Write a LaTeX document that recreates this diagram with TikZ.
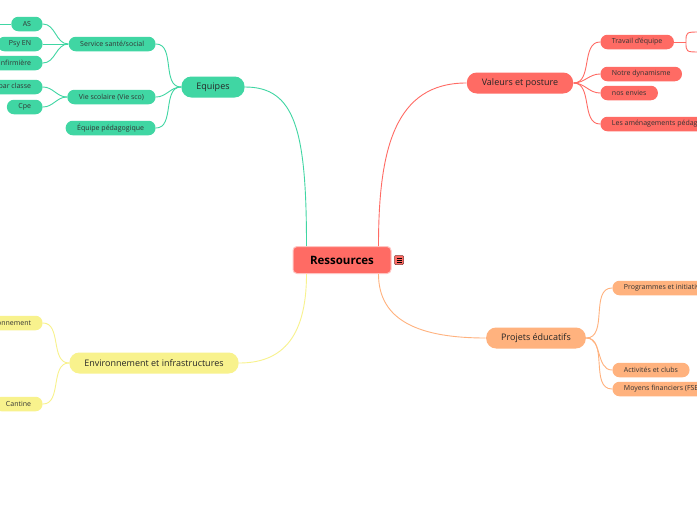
\documentclass[tikz,border=0pt]{standalone}
\usepackage{fontspec}
\setmainfont{Open Sans}
\usetikzlibrary{positioning}

\definecolor{vert}{HTML}{40D6A3}
\definecolor{rouge}{HTML}{FF6B64}
\definecolor{saumon}{HTML}{FFB27E}
\definecolor{jaune}{HTML}{F8F28D}

\begin{document}
\begin{tikzpicture}[x=1pt,y=-1pt,line width=0.9pt]
  \tikzstyle{feuille}=[rounded corners=7pt,minimum height=14.5pt,inner xsep=11.5pt,inner ysep=0pt,font=\fontsize{7}{8}\selectfont,text=black!80]
  \tikzstyle{branche}=[rounded corners=10pt,minimum height=21pt,inner xsep=15pt,inner ysep=0pt,font=\fontsize{9}{10}\selectfont,text=black!85]
  \clip (0,0) rectangle (697,520);
  \fill[white] (0,0) rectangle (697,520);
  % centre
  \node[draw=rouge!40,line width=1pt,fill=rouge,rounded corners=4pt,minimum width=98pt,minimum height=27pt,font=\fontsize{11.5}{13}\bfseries] (ressources) at (342,260) {Ressources};
  \node[draw=rouge!50!black,line width=0.5pt,fill=rouge,rounded corners=1pt,minimum size=9pt,inner sep=0pt] (menu) at (399,260) {};
  \foreach \dy in {-2,0,2}
    \draw[line width=0.6pt] ([xshift=-2.5pt,yshift=\dy pt]menu.center) -- ++(5,0);
  % branches
  \node[branche,fill=vert] (equipes) at (213,87) {Equipes};
  \node[branche,fill=rouge] (valeurs) at (520,83) {Valeurs et posture};
  \node[branche,fill=saumon] (projets) at (536,338) {Projets éducatifs};
  \node[branche,fill=jaune] (environnement) at (154,363) {Environnement et infrastructures};
  % equipes
  \node[feuille,fill=vert,anchor=east] (service) at (156,44) {Service santé/social};
  \node[feuille,fill=vert,anchor=east] (viesco) at (156,97) {Vie scolaire (Vie sco)};
  \node[feuille,fill=vert,anchor=east] (pedago) at (156,128) {Équipe pédagogique};
  \node[feuille,fill=vert,anchor=east] (as) at (43,24) {AS};
  \node[feuille,fill=vert,anchor=east] (psyen) at (43,44) {Psy EN};
  \node[feuille,fill=vert,anchor=east] (infirmiere) at (43,63) {Infirmière};
  \node[feuille,fill=vert,anchor=east] (classe) at (43,87) {par classe};
  \node[feuille,fill=vert,anchor=east] (cpe) at (43,107) {Cpe};
  \coordinate (asg) at (-5,24);
  % valeurs
  \node[feuille,fill=rouge,anchor=west] (travail) at (600,42) {Travail d'équipe};
  \node[feuille,fill=rouge,anchor=west] (dynamisme) at (600,74) {Notre dynamisme};
  \node[feuille,fill=rouge,anchor=west] (envies) at (600,93) {nos envies};
  \node[feuille,fill=rouge,anchor=west] (amenagements) at (600,124) {Les aménagements pédagogiques};
  \coordinate (fourche) at (686,42);
  \coordinate (t1) at (700,32);
  \coordinate (t2) at (700,52);
  % projets
  \node[feuille,fill=saumon,anchor=west] (programmes) at (612,288) {Programmes et initiatives};
  \node[feuille,fill=saumon,anchor=west] (activites) at (612,370) {Activités et clubs};
  \node[feuille,fill=saumon,anchor=west] (moyens) at (612,389) {Moyens financiers (FSE)};
  % environnement
  \node[feuille,fill=jaune,anchor=east] (envir) at (43,323) {Environnement};
  \node[feuille,fill=jaune,anchor=east] (cantine) at (43,404) {Cantine};

  % liens du centre
  \draw[vert] ([xshift=14pt]ressources.north west) .. controls +(0,-116) and +(50,0) .. (equipes.east);
  \draw[rouge] ([xshift=-13pt]ressources.north east) .. controls +(0,-96) and +(-72,0) .. (valeurs.west);
  \draw[saumon] ([xshift=-13pt]ressources.south east) .. controls +(0,47) and +(-66,0) .. (projets.west);
  \draw[jaune] ([xshift=14pt]ressources.south west) .. controls +(0,67) and +(40,0) .. (environnement.east);
  % liens des branches
  \foreach \n in {service,viesco,pedago}
    \draw[vert] (equipes.west) to[out=180,in=0] (\n.east);
  \foreach \n in {as,infirmiere}
    \draw[vert] (service.west) to[out=180,in=0] (\n.east);
  \draw[vert] (service.west) -- (psyen.east);
  \foreach \n in {classe,cpe}
    \draw[vert] (viesco.west) to[out=180,in=0] (\n.east);
  \draw[vert] (as.west) -- (asg);
  \foreach \n in {travail,dynamisme,envies,amenagements}
    \draw[rouge] (valeurs.east) to[out=0,in=180] (\n.west);
  \draw[rouge] (travail.east) -- (fourche);
  \draw[rouge] (fourche) .. controls +(0,-10) .. (t1);
  \draw[rouge] (fourche) .. controls +(0,10) .. (t2);
  \foreach \n in {programmes,activites,moyens}
    \draw[saumon] (projets.east) to[out=0,in=180] (\n.west);
  \foreach \n in {envir,cantine}
    \draw[jaune] (environnement.west) to[out=180,in=0] (\n.east);
\end{tikzpicture}
\end{document}
